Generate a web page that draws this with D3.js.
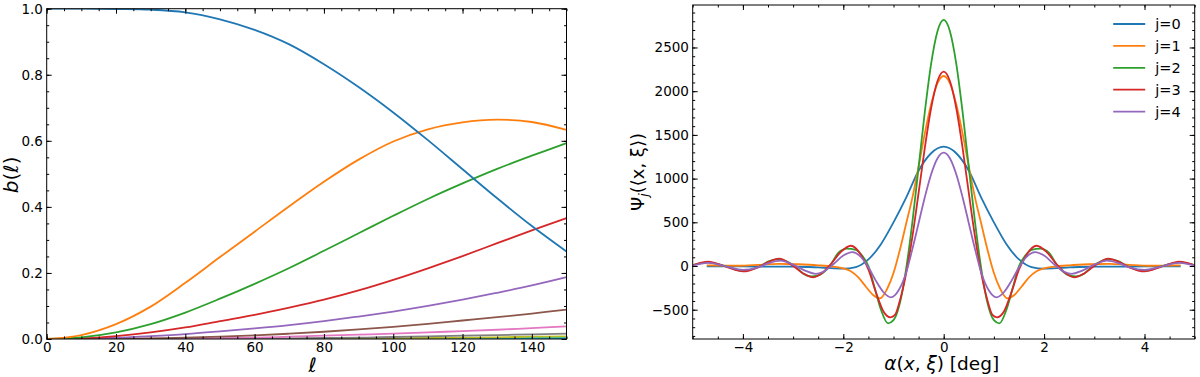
<!DOCTYPE html>
<html>
<head>
<meta charset="utf-8">
<script src="https://cdn.jsdelivr.net/npm/d3@7"></script>
<style>
body {margin:0; background:#fff;}
text {font-family:"DejaVu Sans", sans-serif; fill:#000;}
</style>
</head>
<body>
<svg id="fig" width="1200" height="377"></svg>
<script>
// left panel: b(l) windows, read at l = 0,10,...,150
var ells = [0,10,20,30,40,50,60,70,80,90,100,110,120,130,140,150];
var b0 = [1.0,1.0,0.999,0.997,0.989,0.968,0.936,0.892,0.832,0.763,0.686,0.602,0.514,0.426,0.342,0.265];
var b1 = [0,0.012,0.045,0.098,0.17,0.248,0.325,0.402,0.476,0.543,0.598,0.635,0.656,0.664,0.657,0.633];
var b2 = [0,0.005,0.02,0.045,0.08,0.122,0.167,0.215,0.267,0.32,0.373,0.424,0.471,0.515,0.555,0.593];
var b3 = [0,0.002,0.009,0.02,0.035,0.054,0.073,0.095,0.119,0.147,0.179,0.214,0.251,0.29,0.329,0.366];
var b4 = [0,0.001,0.004,0.009,0.015,0.023,0.032,0.042,0.054,0.068,0.083,0.1,0.119,0.14,0.162,0.187];
var b5 = [0,0,0.001,0.002,0.004,0.007,0.011,0.016,0.022,0.029,0.037,0.046,0.056,0.066,0.077,0.089];
var b6 = [0,0,0,0.001,0.0015,0.0025,0.004,0.007,0.01,0.013,0.016,0.02,0.024,0.028,0.033,0.038];
var b7 = [0,0,0,0,0,0.001,0.001,0.002,0.003,0.004,0.006,0.008,0.01,0.012,0.014,0.016];
var b8 = [0,0,0,0,0,0,0,0.0005,0.001,0.0015,0.002,0.003,0.004,0.005,0.007,0.008];
var b9 = [0,0,0,0,0,0,0,0,0,0.0005,0.001,0.0015,0.002,0.0025,0.003,0.004];
var b10 = [0,0,0,0,0,0,0,0,0,0,0,0.0005,0.0008,0.001,0.0015,0.002];
var bSeries = [b0,b1,b2,b3,b4,b5,b6,b7,b8,b9,b10];

// right panel: Psi_j against alpha [deg], pairs [alpha, value]
var psi0 = [[-4.72,-4],[-4,-5],[-3.5,-6],[-3,-8],[-2.5,-15],[-2.25,-25],[-2,-30],[-1.75,-12],[-1.5,75],[-1.25,250],[-1,500],[-0.75,780],[-0.5,1090],[-0.25,1290],
            [0,1365],[0.25,1290],[0.5,1090],[0.75,780],[1,500],[1.25,250],[1.5,75],[1.75,-12],[2,-30],[2.25,-25],[2.5,-15],[3,-8],[3.5,-6],[4,-5],[4.72,-4]];
var psi1 = [[-4.72,8],[-4.4,5],[-4.1,3],[-3.7,12],[-3.3,25],[-2.9,20],[-2.5,8],[-2.2,-8],[-2,-28],[-1.85,-60],[-1.7,-130],[-1.55,-237],[-1.4,-335],[-1.27,-370],[-1.125,-260],[-1,-80],[-0.875,180],[-0.75,480],[-0.625,780],[-0.5,1140],[-0.375,1520],[-0.25,1850],[-0.125,2090],
            [0,2174],[0.125,2090],[0.25,1850],[0.375,1520],[0.5,1140],[0.625,780],[0.75,480],[0.875,180],[1,-80],[1.125,-260],[1.27,-370],[1.4,-335],[1.55,-237],[1.7,-130],[1.85,-60],[2,-28],[2.2,-8],[2.5,8],[2.9,20],[3.3,25],[3.7,12],[4.1,3],[4.4,5],[4.72,8]];
var psi2 = [[-5,10],[-4.7,42],[-4.35,0],[-4.02,-55],[-3.65,0],[-3.5,50],[-3.3,78],[-2.95,-10],[-2.8,-85],[-2.63,-120],[-2.45,-95],[-2.27,0],[-2.1,150],[-1.93,200],[-1.75,185],[-1.625,120],[-1.5,0],[-1.375,-250],[-1.25,-500],[-1.11,-656],[-1,-620],[-0.875,-430],[-0.75,-40],[-0.625,496],[-0.5,1129],[-0.375,1768],[-0.25,2316],[-0.125,2684],
            [0,2815],[0.125,2684],[0.25,2316],[0.375,1768],[0.5,1129],[0.625,496],[0.75,-40],[0.875,-430],[1,-620],[1.11,-656],[1.25,-500],[1.375,-250],[1.5,0],[1.625,120],[1.75,185],[1.93,200],[2.1,150],[2.27,0],[2.45,-95],[2.63,-120],[2.8,-85],[2.95,-10],[3.3,78],[3.5,50],[3.65,0],[4.02,-55],[4.35,0],[4.7,42],[5,10]];
var psi3 = [[-5,8],[-4.85,35],[-4.68,50],[-4.5,25],[-4.3,-15],[-4,-62],[-3.7,-15],[-3.5,45],[-3.28,85],[-3,0],[-2.8,-85],[-2.6,-130],[-2.4,-70],[-2.25,20],[-2.05,160],[-1.85,232],[-1.65,130],[-1.5,-40],[-1.35,-300],[-1.2,-520],[-1.06,-587],[-0.97,-560],[-0.875,-400],[-0.75,-90],[-0.625,330],[-0.5,836],[-0.375,1356],[-0.25,1808],[-0.125,2114],
            [0,2223],[0.125,2114],[0.25,1808],[0.375,1356],[0.5,836],[0.625,330],[0.75,-90],[0.875,-400],[0.97,-560],[1.06,-587],[1.2,-520],[1.35,-300],[1.5,-40],[1.65,130],[1.85,232],[2.05,160],[2.25,20],[2.4,-70],[2.6,-130],[2.8,-85],[3,0],[3.28,85],[3.5,45],[3.7,-15],[4,-62],[4.3,-15],[4.5,25],[4.68,50],[4.85,35],[5,8]];
var psi4 = [[-5,5],[-4.85,25],[-4.7,35],[-4.5,20],[-4.3,-10],[-4,-45],[-3.7,-15],[-3.5,30],[-3.25,62],[-3,15],[-2.75,-55],[-2.55,-90],[-2.4,-65],[-2.2,20],[-2,120],[-1.82,160],[-1.65,105],[-1.5,-15],[-1.35,-170],[-1.2,-300],[-1.05,-358],[-0.9,-280],[-0.75,-80],[-0.625,190],[-0.5,490],[-0.375,790],[-0.25,1050],[-0.125,1230],
            [0,1297],[0.125,1230],[0.25,1050],[0.375,790],[0.5,490],[0.625,190],[0.75,-80],[0.9,-280],[1.05,-358],[1.2,-300],[1.35,-170],[1.5,-15],[1.65,105],[1.82,160],[2,120],[2.2,20],[2.4,-65],[2.55,-90],[2.75,-55],[3,15],[3.25,62],[3.5,30],[3.7,-15],[4,-45],[4.3,-10],[4.5,20],[4.7,35],[4.85,25],[5,5]];
var psiSeries = [psi0,psi1,psi2,psi3,psi4];
var psiLabels = ['j=0','j=1','j=2','j=3','j=4'];

var colors = ['#1f77b4','#ff7f0e','#2ca02c','#d62728','#9467bd','#8c564b','#e377c2','#7f7f7f','#bcbd22','#17becf','#1f77b4'];

var svg = d3.select('#fig');

// inward ticks on all four sides, labels on bottom/left only
function frame(g, x, y, xMaj, xMin, yMaj, yMin, fx, fy) {
	var w = x.range()[1], h = y.range()[0];
	var axes = [
		[d3.axisBottom(x).tickValues(xMaj).tickSize(-5).tickPadding(3.5).tickFormat(fx), 'translate(0,' + h + ')'],
		[d3.axisBottom(x).tickValues(xMin).tickSize(-2.5).tickFormat(''), 'translate(0,' + h + ')'],
		[d3.axisTop(x).tickValues(xMaj).tickSize(-5).tickFormat(''), null],
		[d3.axisTop(x).tickValues(xMin).tickSize(-2.5).tickFormat(''), null],
		[d3.axisLeft(y).tickValues(yMaj).tickSize(-5).tickPadding(3.8).tickFormat(fy), null],
		[d3.axisLeft(y).tickValues(yMin).tickSize(-2.5).tickFormat(''), null],
		[d3.axisRight(y).tickValues(yMaj).tickSize(-5).tickFormat(''), 'translate(' + w + ',0)'],
		[d3.axisRight(y).tickValues(yMin).tickSize(-2.5).tickFormat(''), 'translate(' + w + ',0)']
	];
	axes.forEach(function(a) {
		var ag = g.append('g').call(a[0]);
		if (a[1]) ag.attr('transform', a[1]);
		ag.select('.domain').remove();
		ag.selectAll('line').attr('stroke', '#000').attr('stroke-width', 1);
		ag.selectAll('text').style('font-family', '"DejaVu Sans", sans-serif').style('font-size', '13.5px').attr('fill', '#000');
	});
	g.append('rect').attr('width', w).attr('height', h)
		.attr('fill', 'none').attr('stroke', '#000').attr('stroke-width', 1);
}

// ---------- left panel ----------
var mL = {left:46.7, top:8.7, width:519.8, height:330.3};
var gL = svg.append('g').attr('transform', 'translate(' + mL.left + ',' + mL.top + ')');
var xL = d3.scaleLinear().domain([0,150]).range([0, mL.width]);
var yL = d3.scaleLinear().domain([0,1]).range([mL.height, 0]);

gL.append('clipPath').attr('id', 'clipL').append('rect').attr('width', mL.width).attr('height', mL.height);

var lineL = d3.line()
	.x(function(d, i) { return xL(ells[i]); })
	.y(function(d) { return yL(d); })
	.curve(d3.curveCatmullRom.alpha(0.5));

gL.append('g').attr('clip-path', 'url(#clipL)')
	.selectAll('path')
	.data(bSeries.slice().reverse())
	.enter().append('path')
		.attr('d', lineL)
		.attr('fill', 'none')
		.attr('stroke', function(d, i) { return colors[bSeries.length - 1 - i]; })
		.attr('stroke-width', 1.8);

frame(gL, xL, yL,
	d3.range(0, 141, 20), d3.range(0, 151, 5),
	d3.range(0, 1.01, 0.2), d3.range(0, 1.001, 0.05),
	d3.format('d'), d3.format('.1f'));

gL.append('text')
	.attr('transform', 'translate(-28.5,' + (mL.height/2 + 1) + ') rotate(-90)')
	.attr('text-anchor', 'middle')
	.style('font-size', '20px')
	.html('<tspan font-style="italic">b</tspan>(<tspan font-style="italic">ℓ</tspan>)');

gL.append('text')
	.attr('x', mL.width/2 + 6)
	.attr('y', mL.height + 33)
	.attr('text-anchor', 'middle')
	.style('font-size', '20px')
	.style('font-style', 'italic')
	.text('ℓ');

// ---------- right panel ----------
var mR = {left:692.7, top:5, width:502, height:334};
var gR = svg.append('g').attr('transform', 'translate(' + mR.left + ',' + mR.top + ')');
var xR = d3.scaleLinear().domain([-5,5]).range([0, mR.width]);
var yR = d3.scaleLinear().domain([-835,2986]).range([mR.height, 0]);

gR.append('clipPath').attr('id', 'clipR').append('rect').attr('width', mR.width).attr('height', mR.height);

var lineR = d3.line()
	.x(function(d) { return xR(d[0]); })
	.y(function(d) { return yR(d[1]); })
	.curve(d3.curveMonotoneX);

gR.append('g').attr('clip-path', 'url(#clipR)')
	.selectAll('path')
	.data(psiSeries)
	.enter().append('path')
		.attr('d', lineR)
		.attr('fill', 'none')
		.attr('stroke', function(d, i) { return colors[i]; })
		.attr('stroke-width', 1.8);

frame(gR, xR, yR,
	[-4,-2,0,2,4], d3.range(-5, 5.01, 0.5),
	d3.range(-500, 2501, 500), d3.range(-800, 2901, 100),
	d3.format('d'), d3.format('d'));

gR.append('text')
	.attr('transform', 'translate(-48.5,' + 167 + ') rotate(-90)')
	.attr('text-anchor', 'middle')
	.style('font-size', '18px')
	.html('Ψ<tspan font-style="italic" font-size="12.5px" dy="4">j</tspan><tspan dy="-4">(⟨x, ξ⟩)</tspan>');

gR.append('text')
	.attr('x', xR(0) - 2)
	.attr('y', mR.height + 31)
	.attr('text-anchor', 'middle')
	.style('font-size', '18.5px')
	.html('<tspan font-style="italic">α</tspan>(<tspan font-style="italic">x</tspan>, <tspan font-style="italic">ξ</tspan>) [deg]');

// legend
var legend = gR.selectAll('.legend')
	.data(psiLabels)
	.enter().append('g')
		.attr('class', 'legend')
		.attr('transform', function(d, i) { return 'translate(420.5,' + (19 + i * 21.9) + ')'; });

legend.append('line')
	.attr('x1', 0).attr('x2', 32)
	.attr('stroke', function(d, i) { return colors[i]; })
	.attr('stroke-width', 1.8);

legend.append('text')
	.attr('x', 42)
	.attr('dy', '0.35em')
	.style('font-size', '14.5px')
	.text(function(d) { return d; });
</script>
</body>
</html>
